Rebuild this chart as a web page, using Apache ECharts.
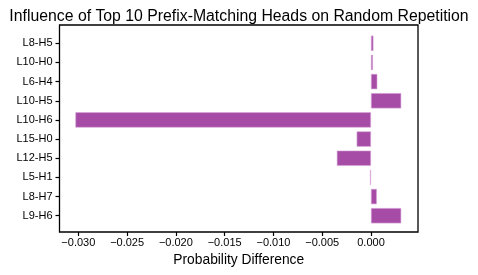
<!DOCTYPE html>
<html><head><meta charset="utf-8">
<script src="https://cdn.jsdelivr.net/npm/echarts@6/dist/echarts.min.js"></script>
<style>html,body{margin:0;padding:0;background:#fff}#c{width:478px;height:275px}</style>
</head><body><div id="c"></div>
<script>
const categories = ["L8-H5","L10-H0","L6-H4","L10-H5","L10-H6","L15-H0","L12-H5","L5-H1","L8-H7","L9-H6"];
const values = [0.00025,0.0002,0.00065,0.0031,-0.0303,-0.00147,-0.0035,-0.0001,0.0006,0.0031];
const xTicks = [-0.030,-0.025,-0.020,-0.015,-0.010,-0.005,0.000];
const FONT = "'Liberation Sans', Arial, sans-serif";
const chart = echarts.init(document.getElementById('c'), null, {renderer:'canvas'});
chart.setOption({
  animation:false,
  title:{text:'Influence of Top 10 Prefix-Matching Heads on Random Repetition',left:'center',top:4,
    textStyle:{fontFamily:FONT,fontSize:15.8,fontWeight:'normal',color:'#000'}},
  grid:[
    {left:59.5,right:60,top:33.7,bottom:49.7,show:false},
    {left:59.5,right:60,top:25,bottom:43,show:true,borderColor:'#000',borderWidth:1.3,backgroundColor:'transparent',z:5}
  ],
  xAxis:[
    {type:'value',gridIndex:0,min:-0.03193,max:0.00482,offset:6.7,position:'bottom',
     axisLine:{show:false,onZero:false},splitLine:{show:false},
     axisTick:{show:true,length:4,lineStyle:{color:'#000',width:1.2},customValues:xTicks},
     axisLabel:{fontFamily:FONT,fontSize:11,color:'#000',margin:5,customValues:xTicks,
       formatter:v=>v.toFixed(3).replace('-','\u2212')},
     name:'Probability Difference',nameLocation:'middle',nameGap:19.5,
     nameTextStyle:{fontFamily:FONT,fontSize:13.8,color:'#000'}},
    {type:'value',gridIndex:1,show:false,min:0,max:1}
  ],
  yAxis:[
    {type:'category',gridIndex:0,data:categories,inverse:true,position:'left',
     axisLine:{show:false,onZero:false},splitLine:{show:false},
     axisTick:{show:true,alignWithLabel:true,length:4,lineStyle:{color:'#000',width:1.2}},
     axisLabel:{fontFamily:FONT,fontSize:11,color:'#000',margin:7}},
    {type:'value',gridIndex:1,show:false,min:0,max:1}
  ],
  series:[{type:'bar',xAxisIndex:0,yAxisIndex:0,data:values,barWidth:'80%',
    itemStyle:{color:'#a64ca6',borderColor:'#d8a8d8',borderWidth:0.6}}]
});
</script></body></html>
